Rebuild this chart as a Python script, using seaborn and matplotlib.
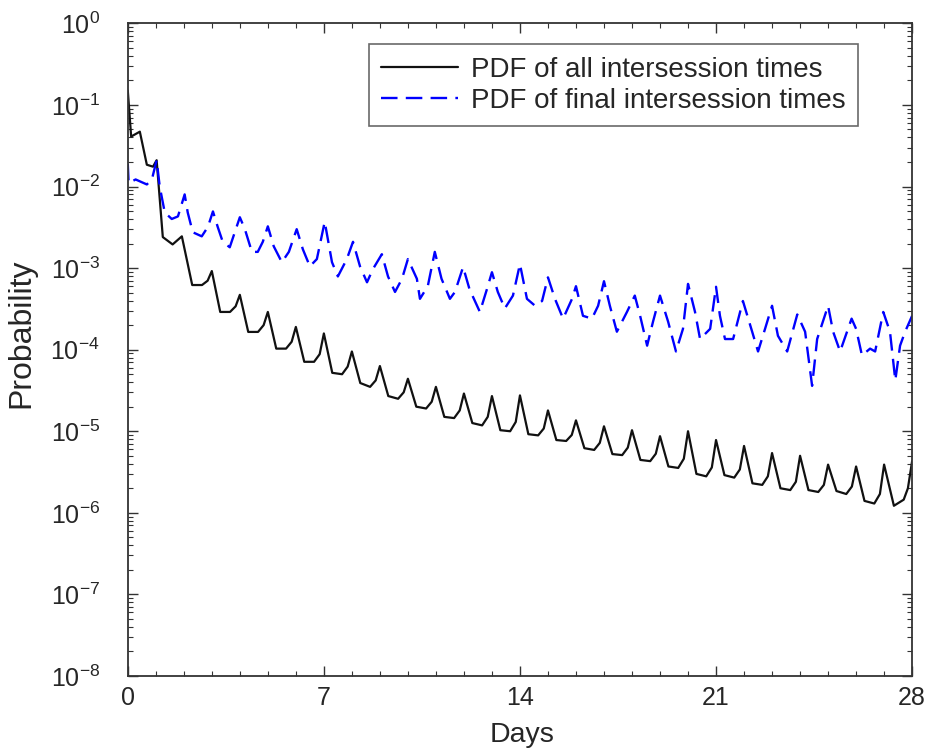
import matplotlib
matplotlib.use("Agg")
import matplotlib.pyplot as plt
import matplotlib.ticker as mticker
import numpy as np
import pandas as pd
import seaborn as sns

# ---- data ----
all_days = [0.0, 0.12, 0.43, 0.68, 0.9, 1.03, 1.25, 1.6, 1.93,
            2.3, 2.65, 2.85, 3.0, 3.3, 3.65, 3.85, 4.0, 4.3, 4.65, 4.85, 5.0,
            5.3, 5.65, 5.85, 6.0, 6.3, 6.65, 6.85, 7.0, 7.3, 7.65, 7.85, 8.0,
            8.3, 8.65, 8.85, 9.0, 9.3, 9.65, 9.85, 10.0, 10.3, 10.65, 10.85, 11.0,
            11.3, 11.65, 11.85, 12.0, 12.3, 12.65, 12.85, 13.0, 13.3, 13.65, 13.85, 14.0,
            14.3, 14.65, 14.85, 15.0, 15.3, 15.65, 15.85, 16.0, 16.3, 16.65, 16.85, 17.0,
            17.3, 17.65, 17.85, 18.0, 18.3, 18.65, 18.85, 19.0, 19.3, 19.65, 19.85, 20.0,
            20.3, 20.65, 20.85, 21.0, 21.3, 21.65, 21.85, 22.0, 22.3, 22.65, 22.85, 23.0,
            23.3, 23.65, 23.85, 24.0, 24.3, 24.65, 24.85, 25.0, 25.3, 25.65, 25.85, 26.0,
            26.3, 26.65, 26.85, 27.0, 27.35, 27.7, 27.85, 28.0]
all_pdf = [1.5e-1, 4.1e-2, 4.7e-2, 1.85e-2, 1.75e-2, 2.1e-2, 2.4e-3, 1.95e-3, 2.45e-3,
           6.2e-4, 6.2e-4, 7.0e-4, 9.2e-4, 2.9e-4, 2.9e-4, 3.4e-4, 4.7e-4, 1.65e-4, 1.65e-4, 2.0e-4, 2.9e-4,
           1.03e-4, 1.03e-4, 1.25e-4, 1.9e-4, 7.1e-5, 7.1e-5, 8.8e-5, 1.58e-4, 5.2e-5, 5.0e-5, 6.2e-5, 9.5e-5,
           3.9e-5, 3.5e-5, 4.2e-5, 6.3e-5, 2.7e-5, 2.5e-5, 3.0e-5, 4.4e-5, 2.0e-5, 1.9e-5, 2.3e-5, 3.5e-5,
           1.5e-5, 1.45e-5, 1.8e-5, 2.9e-5, 1.26e-5, 1.18e-5, 1.5e-5, 2.7e-5, 1.03e-5, 1.0e-5, 1.3e-5, 2.75e-5,
           9.2e-6, 8.9e-6, 1.08e-5, 1.8e-5, 7.8e-6, 7.6e-6, 9.0e-6, 1.36e-5, 6.2e-6, 5.9e-6, 7.2e-6, 1.15e-5,
           5.25e-6, 5.1e-6, 6.3e-6, 1.03e-5, 4.45e-6, 4.3e-6, 5.3e-6, 8.7e-6, 3.7e-6, 3.55e-6, 4.6e-6, 1.0e-5,
           3.0e-6, 2.8e-6, 3.6e-6, 7.8e-6, 2.9e-6, 2.7e-6, 3.4e-6, 6.6e-6, 2.3e-6, 2.2e-6, 2.8e-6, 5.4e-6,
           2.0e-6, 1.9e-6, 2.4e-6, 5.0e-6, 1.9e-6, 1.8e-6, 2.2e-6, 3.9e-6, 1.85e-6, 1.7e-6, 2.1e-6, 3.7e-6,
           1.4e-6, 1.3e-6, 1.7e-6, 3.9e-6, 1.22e-6, 1.45e-6, 2.0e-6, 4.3e-6]

final_days = [0.0, 0.03, 0.28, 0.68, 0.86, 1.03, 1.14, 1.32, 1.57, 1.79,
              2.03, 2.14, 2.32, 2.64, 2.86, 3.04, 3.21, 3.39, 3.64, 3.82,
              4.0, 4.18, 4.43, 4.64, 4.82, 5.0, 5.21, 5.5, 5.75,
              6.03, 6.25, 6.5, 6.75, 7.03, 7.29, 7.5, 7.82,
              8.04, 8.29, 8.54, 8.75, 9.07, 9.29, 9.54, 9.79,
              10.0, 10.32, 10.43, 10.71, 10.96, 11.2, 11.5, 11.68,
              11.97, 12.2, 12.57, 12.82, 13.0, 13.21, 13.46, 13.75,
              14.0, 14.25, 14.54, 14.79, 15.0, 15.25, 15.54, 15.86,
              16.0, 16.25, 16.57, 16.79, 17.0, 17.21, 17.46, 17.82,
              18.1, 18.29, 18.54, 18.75, 19.0, 19.29, 19.57, 19.82,
              20.0, 20.25, 20.43, 20.79, 21.0, 21.14, 21.32, 21.61,
              21.96, 22.29, 22.5, 22.75, 23.0, 23.21, 23.54, 23.9,
              24.18, 24.43, 24.61, 25.0, 25.18, 25.43, 25.84,
              26.0, 26.21, 26.5, 26.68, 26.97, 27.21, 27.4, 27.57, 27.75, 28.0]
final_pdf = [1.9e-2, 1.1e-2, 1.22e-2, 1.06e-2, 1.22e-2, 2.1e-2, 1.0e-2, 4.8e-3, 4.0e-3, 4.3e-3,
             8.0e-3, 4.8e-3, 2.75e-3, 2.45e-3, 3.2e-3, 4.95e-3, 3.2e-3, 2.1e-3, 1.8e-3, 2.75e-3,
             4.2e-3, 3.0e-3, 1.58e-3, 1.58e-3, 2.1e-3, 3.25e-3, 1.85e-3, 1.18e-3, 1.58e-3,
             3.0e-3, 1.7e-3, 1.05e-3, 1.29e-3, 3.7e-3, 1.18e-3, 7.9e-4, 1.29e-3,
             2.1e-3, 1.05e-3, 6.7e-4, 9.7e-4, 1.48e-3, 7.9e-4, 5.1e-4, 7.4e-4,
             1.29e-3, 7.4e-4, 4.2e-4, 6.0e-4, 1.58e-3, 7.4e-4, 4.2e-4, 5.1e-4,
             1.03e-3, 5.5e-4, 2.9e-4, 5.5e-4, 8.9e-4, 5.1e-4, 3.2e-4, 4.6e-4,
             1.12e-3, 4.2e-4, 3.45e-4, 3.95e-4, 7.7e-4, 4.2e-4, 2.4e-4, 4.2e-4,
             6.0e-4, 2.6e-4, 2.4e-4, 3.45e-4, 6.9e-4, 3.45e-4, 1.66e-4, 2.9e-4,
             4.6e-4, 2.6e-4, 1.12e-4, 2.2e-4, 4.6e-4, 2.2e-4, 9.5e-5, 1.8e-4,
             6.4e-4, 2.9e-4, 1.35e-4, 1.8e-4, 5.9e-4, 2.6e-4, 1.35e-4, 1.35e-4,
             3.95e-4, 1.66e-4, 9.5e-5, 1.8e-4, 3.45e-4, 1.48e-4, 9.5e-5, 2.7e-4,
             1.66e-4, 3.6e-5, 1.35e-4, 3.45e-4, 1.66e-4, 9.5e-5, 2.4e-4,
             1.8e-4, 8.5e-5, 1.03e-4, 9.5e-5, 2.9e-4, 1.66e-4, 4.2e-5, 1.12e-4, 1.66e-4, 2.6e-4]

labels = ["PDF of all intersession times", "PDF of final intersession times"]
x_ticks = [0, 7, 14, 21, 28]
y_ticks = [1e-8, 1e-7, 1e-6, 1e-5, 1e-4, 1e-3, 1e-2, 1e-1, 1e0]

# ---- style ----
sns.set_style("ticks")
plt.rcParams["font.family"] = ["Liberation Sans", "DejaVu Sans"]
plt.rcParams["mathtext.fontset"] = "custom"
plt.rcParams["mathtext.rm"] = "Liberation Sans"
plt.rcParams["mathtext.it"] = "Liberation Sans:italic"
plt.rcParams["mathtext.bf"] = "Liberation Sans:bold"

fig = plt.figure(figsize=(9.26, 7.51), dpi=100)
ax = fig.add_axes([0.138, 0.0999, 0.847, 0.869])

df_all = pd.DataFrame({"Days": all_days, "Probability": all_pdf})
df_fin = pd.DataFrame({"Days": final_days, "Probability": final_pdf})

sns.lineplot(data=df_all, x="Days", y="Probability", ax=ax, color="#111111",
             linewidth=1.6, estimator=None, sort=False, label=labels[0])
sns.lineplot(data=df_fin, x="Days", y="Probability", ax=ax, color="#0000ff",
             linewidth=1.7, estimator=None, sort=False, label=labels[1])
ax.lines[1].set_dashes((7, 3.5))

ax.set_yscale("log")
ax.set_ylim(1e-8, 1e0)
ax.set_xlim(0, 28)
ax.set_xticks(x_ticks)
ax.xaxis.set_minor_locator(mticker.MultipleLocator(1))
ax.yaxis.set_major_locator(mticker.FixedLocator(y_ticks))
ax.yaxis.set_major_formatter(mticker.LogFormatterMathtext())
minor_y = [m * d for d in y_ticks[:-1] for m in range(2, 10)]
ax.yaxis.set_minor_locator(mticker.FixedLocator(minor_y))
ax.yaxis.set_minor_formatter(mticker.NullFormatter())

ax.tick_params(which="both", direction="in", top=True, right=True, labelsize=18,
               color="#333333")
ax.tick_params(which="major", length=7, width=1.0)
ax.tick_params(which="minor", length=3.5, width=0.8)
ax.tick_params(axis="x", pad=7)
ax.tick_params(axis="y", pad=20)
for s in ax.spines.values():
    s.set_linewidth(1.3)
    s.set_color("#333333")

ax.set_xlabel("Days", fontsize=20.5)
ax.set_ylabel("Probability", fontsize=23)
ax.xaxis.set_label_coords(0.503, -0.07)
ax.yaxis.set_label_coords(-0.116, 0.525)

leg = ax.legend(loc="upper right", bbox_to_anchor=(0.931, 0.968), fontsize=20,
                frameon=True, fancybox=False, edgecolor="#444444",
                handlelength=2.77, labelspacing=0.18, borderpad=0.45,
                handletextpad=0.45, borderaxespad=0.0)
leg.get_frame().set_linewidth(1.2)

fig.savefig("out.png", dpi=100)
